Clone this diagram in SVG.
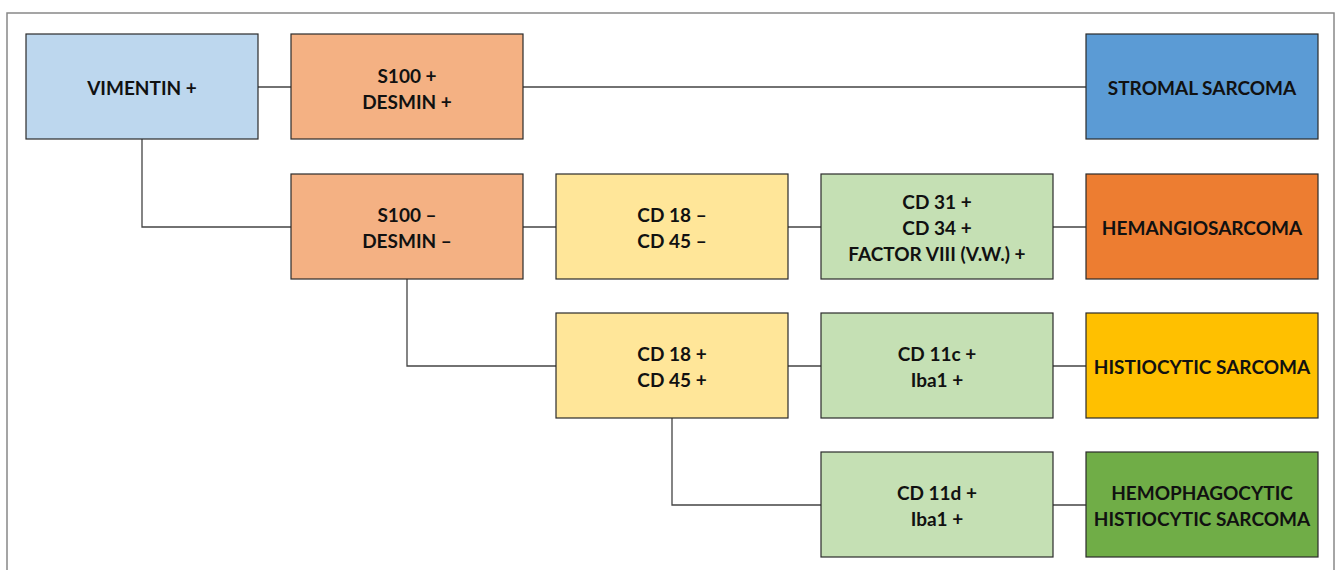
<svg xmlns="http://www.w3.org/2000/svg" width="1337" height="570" viewBox="0 0 1337 570">
<style>
.b{stroke:#2b2b2b;stroke-width:1.2}
.t{font-family:Lato,"Liberation Sans",sans-serif;font-weight:bold;font-size:19px;fill:#111;text-anchor:middle;dominant-baseline:central}
.c{fill:none;stroke:#444;stroke-width:1.3}
</style>
<rect x="0" y="0" width="1337" height="570" fill="#fff"/>
<rect x="7" y="13" width="1327" height="570" fill="none" stroke="#888" stroke-width="1.5"/>
<g id="connectors">
<path class="c" d="M258 87H291M523 87H1086M142 139V227H291M523 227H556M788 227H821M1053 227H1086M407 279V366H556M788 366H821M1053 366H1086M672 418V505H821M1053 505H1086"/>
</g>
<g id="vimentin"><rect class="b" x="26" y="34" width="232" height="105" fill="#BDD7EE"/><text class="t" x="142" y="87">VIMENTIN +</text></g>
<g id="s100pos"><rect class="b" x="291" y="34" width="232" height="105" fill="#F4B183"/><text class="t" x="407" y="75">S100 +</text><text class="t" x="407" y="101">DESMIN +</text></g>
<g id="stromal"><rect class="b" x="1086" y="34" width="232" height="105" fill="#5B9BD5"/><text class="t" x="1202" y="87">STROMAL SARCOMA</text></g>
<g id="s100neg"><rect class="b" x="291" y="174" width="232" height="105" fill="#F4B183"/><text class="t" x="407" y="214">S100 –</text><text class="t" x="407" y="240">DESMIN –</text></g>
<g id="cd18neg"><rect class="b" x="556" y="174" width="232" height="105" fill="#FFE699"/><text class="t" x="672" y="214">CD 18 –</text><text class="t" x="672" y="240">CD 45 –</text></g>
<g id="cd31"><rect class="b" x="821" y="174" width="232" height="105" fill="#C5E0B4"/><text class="t" x="937" y="201">CD 31 +</text><text class="t" x="937" y="227">CD 34 +</text><text class="t" x="937" y="253">FACTOR VIII (V.W.) +</text></g>
<g id="hemangio"><rect class="b" x="1086" y="174" width="232" height="105" fill="#ED7D31"/><text class="t" x="1202" y="227">HEMANGIOSARCOMA</text></g>
<g id="cd18pos"><rect class="b" x="556" y="313" width="232" height="105" fill="#FFE699"/><text class="t" x="672" y="353">CD 18 +</text><text class="t" x="672" y="379">CD 45 +</text></g>
<g id="cd11c"><rect class="b" x="821" y="313" width="232" height="105" fill="#C5E0B4"/><text class="t" x="937" y="353">CD 11c +</text><text class="t" x="937" y="379">Iba1 +</text></g>
<g id="histio"><rect class="b" x="1086" y="313" width="232" height="105" fill="#FFC000"/><text class="t" x="1202" y="366">HISTIOCYTIC SARCOMA</text></g>
<g id="cd11d"><rect class="b" x="821" y="452" width="232" height="105" fill="#C5E0B4"/><text class="t" x="937" y="492">CD 11d +</text><text class="t" x="937" y="518">Iba1 +</text></g>
<g id="hemophago"><rect class="b" x="1086" y="452" width="232" height="105" fill="#70AD47"/><text class="t" x="1202" y="492">HEMOPHAGOCYTIC</text><text class="t" x="1202" y="518">HISTIOCYTIC SARCOMA</text></g>
</svg>
